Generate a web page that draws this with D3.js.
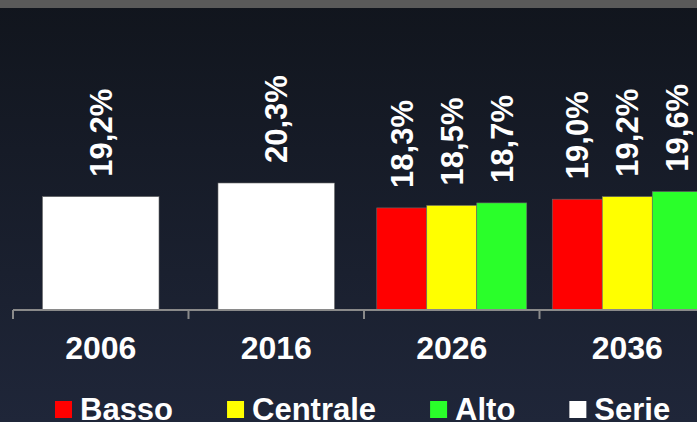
<!DOCTYPE html>
<html>
<head>
<meta charset="utf-8">
<script src="https://cdn.jsdelivr.net/npm/d3@7"></script>
<style>
  body { margin: 0; overflow: hidden; }
  svg { display: block; }
</style>
</head>
<body>
<svg id="chart"></svg>
<script>
var width = 697,
    height = 422;

// data
var years = ["2006", "2016", "2026", "2036"];
var serie = [19.2, 20.3, null, null];
var basso = [null, null, 18.3, 19.0];
var centrale = [null, null, 18.5, 19.2];
var alto = [null, null, 18.7, 19.6];
var seriesNames = ["Basso", "Centrale", "Alto", "Serie"];
var seriesColors = ["#ff0000", "#ffff00", "#2aff2a", "#ffffff"];

var svg = d3.select("svg#chart")
    .attr("width", width)
    .attr("height", height)
    .style("font-family", "'Liberation Sans', Arial, sans-serif");

var defs = svg.append("defs");
var grad = defs.append("linearGradient")
    .attr("id", "bg").attr("x1", 0).attr("y1", 0).attr("x2", 0).attr("y2", 1);
grad.append("stop").attr("offset", "0%").attr("stop-color", "#11151d");
grad.append("stop").attr("offset", "100%").attr("stop-color", "#1f2639");

svg.append("rect").attr("width", width).attr("height", height).attr("fill", "url(#bg)");
svg.append("rect").attr("width", width).attr("height", 8).attr("fill", "#5a5a5a");

var baseY = 310;

var x = d3.scaleBand()
    .domain(years)
    .range([13, 13 + 175.5 * 4])
    .paddingInner(0)
    .paddingOuter(0);

var y = d3.scaleLinear()
    .domain([10.1, 20.3])
    .range([baseY, 183]);

// bars
var bars = [];
years.forEach(function(yr, i) {
    if (serie[i] != null) {
        bars.push({ year: yr, value: serie[i], color: seriesColors[3], w: 116.5, n: 1, k: 0 });
    } else {
        [basso[i], centrale[i], alto[i]].forEach(function(v, k) {
            bars.push({ year: yr, value: v, color: seriesColors[k], n: 3, k: k, w: 50 });
        });
    }
});

function barX(d) {
    var c = x(d.year) + x.bandwidth() / 2;
    return c - d.n * d.w / 2 + d.k * d.w;
}

var g = svg.selectAll("g.bar")
    .data(bars)
    .enter()
    .append("g")
    .attr("class", "bar");

g.append("rect")
    .attr("x", barX)
    .attr("y", function(d) { return y(d.value); })
    .attr("width", function(d) { return d.w; })
    .attr("height", function(d) { return baseY - y(d.value); })
    .attr("fill", function(d) { return d.color; })
    .attr("stroke", "#6a6a6a")
    .attr("stroke-width", 0.6);

g.append("text")
    .attr("transform", function(d) {
        return "translate(" + (barX(d) + d.w / 2) + "," + (y(d.value) - 20) + ") rotate(-90)";
    })
    .attr("dy", "0.35em")
    .attr("fill", "#ffffff")
    .style("font-size", "31px")
    .style("font-weight", "bold")
    .text(function(d) { return d.value.toFixed(1).replace(".", ",") + "%"; });

// axis
var axis = d3.axisBottom(x).tickSize(0).tickPadding(0);
var ax = svg.append("g").attr("transform", "translate(0," + baseY + ")").call(axis);
ax.select(".domain").remove();
ax.append("line")
    .attr("x1", 13).attr("x2", width + 20)
    .attr("stroke", "#8a8a8a").attr("stroke-width", 2);
ax.selectAll(".tickmark")
    .data(years)
    .enter()
    .append("line")
    .attr("x1", function(d) { return x(d); })
    .attr("x2", function(d) { return x(d); })
    .attr("y1", 0).attr("y2", 9)
    .attr("stroke", "#8a8a8a").attr("stroke-width", 2);
ax.selectAll(".tick text")
    .attr("y", 49)
    .attr("dy", 0)
    .attr("fill", "#ffffff")
    .style("font-size", "32px")
    .style("font-weight", "bold")
    .style("font-family", "'Liberation Sans', Arial, sans-serif");

// legend
var legend = svg.append("g");
var lx = 55;
seriesNames.forEach(function(name, i) {
    legend.append("rect")
        .attr("x", lx).attr("y", 401)
        .attr("width", 17).attr("height", 17)
        .attr("fill", seriesColors[i]);
    var t = legend.append("text")
        .attr("x", lx + 25).attr("y", 420)
        .attr("fill", "#ffffff")
        .style("font-size", "31px")
        .style("font-weight", "bold")
        .text(name);
    lx = lx + 25 + t.node().getComputedTextLength() + 54;
});
</script>
</body>
</html>
